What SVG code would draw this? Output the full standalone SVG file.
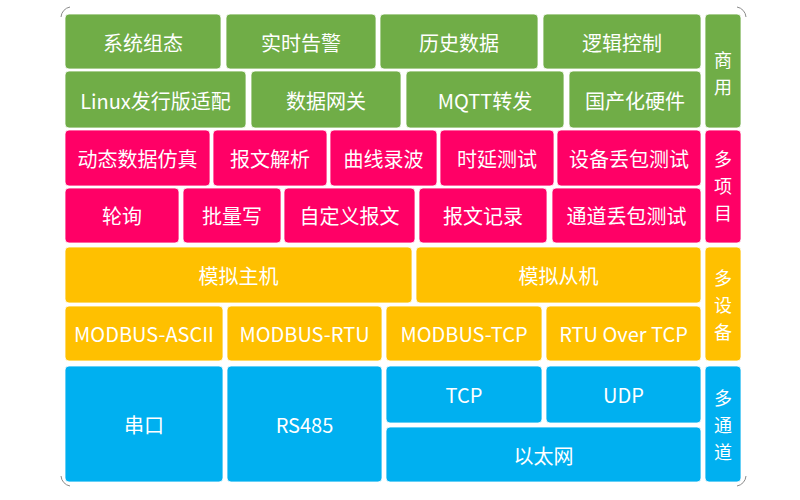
<svg xmlns="http://www.w3.org/2000/svg" width="800" height="500" viewBox="0 0 800 500">
<style>
.g{fill:#70AD47}.p{fill:#FF0066}.y{fill:#FFC000}.b{fill:#00B0F0}
rect{stroke:#ffffff;stroke-width:0.8}
text{font-family:"Noto Sans CJK SC","Noto Sans",sans-serif;font-size:20px;fill:#ffffff;text-anchor:middle;dominant-baseline:central}
.v{font-size:18px}
.c{fill:none;stroke:#8a8a8a;stroke-width:1}
</style>
<rect width="800" height="500" fill="#ffffff" stroke="none"/>
<g id="frame">
<path class="c" d="M61,17 A11,11 0 0 1 70,7"/>
<path class="c" d="M737,7 A11,11 0 0 1 746,17"/>
<path class="c" d="M61,476 A11,11 0 0 0 70,486"/>
<path class="c" d="M746,476 A11,11 0 0 1 737,486"/>
</g>
<g id="n1"><rect class="g" x="65" y="14" width="156" height="55" rx="4"/><text x="143" y="42">系统组态</text></g>
<g id="n2"><rect class="g" x="226" y="14" width="150" height="55" rx="4"/><text x="301" y="42">实时告警</text></g>
<g id="n3"><rect class="g" x="380" y="14" width="158" height="55" rx="4"/><text x="459" y="42">历史数据</text></g>
<g id="n4"><rect class="g" x="543" y="14" width="158" height="55" rx="4"/><text x="622" y="42">逻辑控制</text></g>
<g id="n5"><rect class="g" x="65" y="71" width="181" height="57" rx="4"/><text x="155.5" y="100">Linux发行版适配</text></g>
<g id="n6"><rect class="g" x="251" y="71" width="150" height="57" rx="4"/><text x="326" y="100">数据网关</text></g>
<g id="n7"><rect class="g" x="406" y="71" width="158" height="57" rx="4"/><text x="485" y="100">MQTT转发</text></g>
<g id="n8"><rect class="g" x="569" y="71" width="132" height="57" rx="4"/><text x="635" y="100">国产化硬件</text></g>
<g id="s1"><rect class="g" x="705" y="14" width="36" height="114" rx="4"/><text class="v" x="723" y="59">商</text><text class="v" x="723" y="86">用</text></g>

<g id="n9"><rect class="p" x="65" y="130" width="145" height="56" rx="4"/><text x="137.5" y="158">动态数据仿真</text></g>
<g id="n10"><rect class="p" x="213" y="130" width="114" height="56" rx="4"/><text x="270" y="158">报文解析</text></g>
<g id="n11"><rect class="p" x="330" y="130" width="107" height="56" rx="4"/><text x="383.5" y="158">曲线录波</text></g>
<g id="n12"><rect class="p" x="440" y="130" width="114" height="56" rx="4"/><text x="497" y="158">时延测试</text></g>
<g id="n13"><rect class="p" x="557" y="130" width="144" height="56" rx="4"/><text x="629" y="158">设备丢包测试</text></g>
<g id="n14"><rect class="p" x="65" y="188" width="114" height="55" rx="4"/><text x="122" y="215.5">轮询</text></g>
<g id="n15"><rect class="p" x="183" y="188" width="98" height="55" rx="4"/><text x="232" y="215.5">批量写</text></g>
<g id="n16"><rect class="p" x="284" y="188" width="131" height="55" rx="4"/><text x="349.5" y="215.5">自定义报文</text></g>
<g id="n17"><rect class="p" x="419" y="188" width="128" height="55" rx="4"/><text x="483" y="215.5">报文记录</text></g>
<g id="n18"><rect class="p" x="552" y="188" width="149" height="55" rx="4"/><text x="626.5" y="215.5">通道丢包测试</text></g>
<g id="s2"><rect class="p" x="705" y="130" width="36" height="113" rx="4"/><text class="v" x="723" y="158">多</text><text class="v" x="723" y="185">项</text><text class="v" x="723" y="212">目</text></g>

<g id="n19"><rect class="y" x="65" y="247" width="347" height="56" rx="4"/><text x="238.5" y="275">模拟主机</text></g>
<g id="n20"><rect class="y" x="416" y="247" width="285" height="56" rx="4"/><text x="558.5" y="275">模拟从机</text></g>
<g id="n21"><rect class="y" x="65" y="306" width="158" height="55" rx="4"/><text x="144" y="333.5">MODBUS-ASCII</text></g>
<g id="n22"><rect class="y" x="227" y="306" width="155" height="55" rx="4"/><text x="304.5" y="333.5">MODBUS-RTU</text></g>
<g id="n23"><rect class="y" x="386" y="306" width="156" height="55" rx="4"/><text x="464" y="333.5">MODBUS-TCP</text></g>
<g id="n24"><rect class="y" x="546" y="306" width="155" height="55" rx="4"/><text x="623.5" y="333.5">RTU Over TCP</text></g>
<g id="s3"><rect class="y" x="705" y="247" width="36" height="114" rx="4"/><text class="v" x="723" y="277">多</text><text class="v" x="723" y="304">设</text><text class="v" x="723" y="331">备</text></g>

<g id="n25"><rect class="b" x="65" y="366" width="158" height="116" rx="4"/><text x="144" y="424">串口</text></g>
<g id="n26"><rect class="b" x="227" y="366" width="155" height="116" rx="4"/><text x="304.5" y="424">RS485</text></g>
<g id="n27"><rect class="b" x="386" y="366" width="156" height="57" rx="4"/><text x="464" y="394">TCP</text></g>
<g id="n28"><rect class="b" x="546" y="366" width="155" height="57" rx="4"/><text x="623.5" y="394">UDP</text></g>
<g id="n29"><rect class="b" x="386" y="427" width="315" height="55" rx="4"/><text x="543.5" y="455">以太网</text></g>
<g id="s4"><rect class="b" x="705" y="366" width="36" height="116" rx="4"/><text class="v" x="723" y="397">多</text><text class="v" x="723" y="424">通</text><text class="v" x="723" y="451">道</text></g>
<g id="connectors"/>
</svg>
